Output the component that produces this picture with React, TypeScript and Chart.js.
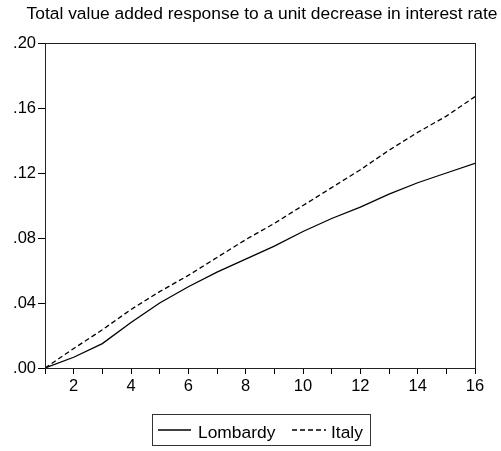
import React, { useEffect, useRef } from "react";
import { Chart, registerables } from "chart.js";

Chart.register(...registerables);

const periods = [1, 2, 3, 4, 5, 6, 7, 8, 9, 10, 11, 12, 13, 14, 15, 16];
const lombardy = [0, 0.0066, 0.015, 0.028, 0.040, 0.050, 0.059, 0.067, 0.075, 0.084, 0.092, 0.099, 0.107, 0.114, 0.120, 0.126];
const italy = [0, 0.012, 0.0235, 0.036, 0.047, 0.057, 0.068, 0.079, 0.089, 0.100, 0.111, 0.122, 0.134, 0.145, 0.155, 0.167];
const yTickValues = [0, 0.04, 0.08, 0.12, 0.16, 0.2];
const yTickLabels = [".00", ".04", ".08", ".12", ".16", ".20"];
const titleText = "Total value added response to a unit decrease in interest rate";
const seriesNames = ["Lombardy", "Italy"];

const FONT = "'Liberation Sans', Arial, sans-serif";

export default function App() {
  const ref = useRef<HTMLCanvasElement | null>(null);

  useEffect(() => {
    const canvas = ref.current;
    if (!canvas) return;

    const framePlugin = {
      id: "frameAndExtras",
      afterDraw(chart: any) {
        const { ctx, chartArea } = chart;
        ctx.save();
        // frame
        ctx.strokeStyle = "#222";
        ctx.lineWidth = 1;
        ctx.setLineDash([]);
        ctx.strokeRect(
          Math.round(chartArea.left) + 0.5,
          Math.round(chartArea.top) + 0.5,
          Math.round(chartArea.right - chartArea.left),
          Math.round(chartArea.bottom - chartArea.top)
        );
        // title
        ctx.fillStyle = "#000";
        ctx.font = `17.4px ${FONT}`;
        ctx.textAlign = "center";
        ctx.textBaseline = "alphabetic";
        ctx.fillText(titleText, 262, 18.5);

        // legend
        const bx = 152, by = 414, bw = 218, bh = 31;
        ctx.strokeStyle = "#333";
        ctx.lineWidth = 1;
        ctx.strokeRect(bx + 0.5, by + 0.5, bw, bh);
        const cy = 430;
        ctx.strokeStyle = "#000";
        ctx.lineWidth = 1.3;
        ctx.beginPath();
        ctx.moveTo(158, cy);
        ctx.lineTo(191, cy);
        ctx.stroke();
        ctx.setLineDash([5, 3]);
        ctx.beginPath();
        ctx.moveTo(292, cy);
        ctx.lineTo(326, cy);
        ctx.stroke();
        ctx.setLineDash([]);
        ctx.font = `17.4px ${FONT}`;
        ctx.textAlign = "left";
        ctx.textBaseline = "alphabetic";
        ctx.fillText(seriesNames[0], 198, 438);
        ctx.fillText(seriesNames[1], 331, 438);
        ctx.restore();
      },
    };

    const chart = new Chart(canvas, {
      type: "line",
      data: {
        datasets: [
          {
            label: seriesNames[0],
            data: periods.map((p, i) => ({ x: p, y: lombardy[i] })),
            borderColor: "#000",
            borderWidth: 1.3,
            pointRadius: 0,
            tension: 0,
            fill: false,
          },
          {
            label: seriesNames[1],
            data: periods.map((p, i) => ({ x: p, y: italy[i] })),
            borderColor: "#000",
            borderWidth: 1.3,
            borderDash: [5, 3],
            pointRadius: 0,
            tension: 0,
            fill: false,
          },
        ],
      },
      plugins: [framePlugin],
      options: {
        responsive: false,
        animation: false,
        layout: { padding: { left: 0, top: 43, right: 26, bottom: 53 } },
        plugins: {
          legend: { display: false },
          title: { display: false },
          tooltip: { enabled: false },
        },
        scales: {
          x: {
            type: "linear",
            min: 1,
            max: 16,
            afterFit: (s: any) => {
              s.height = 30;
            },
            afterBuildTicks: (s: any) => {
              s.ticks = periods.map((v) => ({ value: v }));
            },
            ticks: {
              autoSkip: false,
              maxRotation: 0,
              color: "#000",
              padding: 3,
              font: { family: FONT, size: 16.5 },
              callback: (v: any) => (Number(v) % 2 === 0 ? String(v) : ""),
            },
            grid: {
              display: true,
              drawOnChartArea: false,
              drawTicks: true,
              tickLength: 6,
              color: "#000",
            },
            border: { display: true, color: "#222", width: 1 },
          },
          y: {
            type: "linear",
            min: 0,
            max: 0.2,
            afterFit: (s: any) => {
              s.width = 45;
            },
            afterBuildTicks: (s: any) => {
              s.ticks = yTickValues.map((v) => ({ value: v }));
            },
            ticks: {
              color: "#000",
              padding: 2,
              font: { family: FONT, size: 16.5 },
              callback: (v: any) => {
                const idx = yTickValues.findIndex((t) => Math.abs(t - Number(v)) < 1e-9);
                return idx >= 0 ? yTickLabels[idx] : "";
              },
            },
            grid: {
              display: true,
              drawOnChartArea: false,
              drawTicks: true,
              tickLength: 7,
              color: "#000",
            },
            border: { display: true, color: "#222", width: 1 },
          },
        },
      },
    });

    return () => chart.destroy();
  }, []);

  return (
    <div style={{ position: "fixed", left: 0, top: 0, width: 501, height: 451, background: "#fff" }}>
      <canvas ref={ref} width={501} height={451} style={{ width: 501, height: 451, display: "block" }} />
    </div>
  );
}
